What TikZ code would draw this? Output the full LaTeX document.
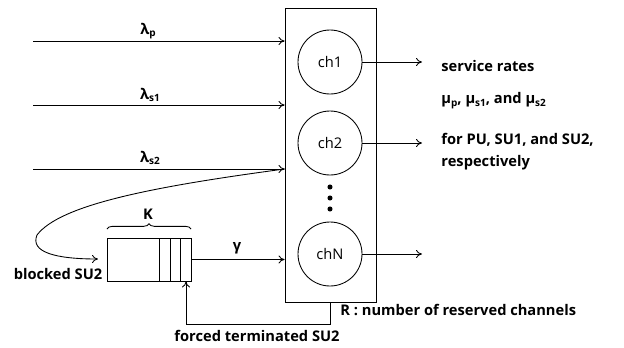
\documentclass[tikz,border=0pt]{standalone}
\usepackage{fontspec}
\setmainfont{Open Sans}
\usetikzlibrary{arrows.meta,decorations.pathreplacing}
\newcommand\lsub[1]{\raisebox{-0.35ex}{\fontsize{7.5}{8}\selectfont #1}}
\begin{document}
\begin{tikzpicture}[x=0.75pt,y=-0.75pt,
  line width=0.65pt,
  arr/.style={-{To[length=4.5pt,width=6pt]}},
  lbl/.style={font=\fontsize{11}{13}\selectfont\bfseries, inner sep=0pt},
  chan/.style={draw, circle, minimum size=48pt, inner sep=0pt, font=\fontsize{11}{13}\selectfont},
  dotn/.style={circle, fill, inner sep=0pt, minimum size=3.8pt}]
\useasboundingbox (0,0) rectangle (624,347);
% channel box
\node (box) [draw, inner sep=0pt, minimum width=68.25pt, minimum height=220.5pt] at (330.5,155) {};
\node (ch1) [chan] at (330,62) {ch1};
\node (ch2) [chan] at (330,143) {ch2};
\node (chN) [chan] at (330,254) {chN};
\node (d1) [dotn] at (330,187) {};
\node (d2) [dotn] at (330,198) {};
\node (d3) [dotn] at (330,209) {};
% inputs
\coordinate (a1) at (33,41);
\coordinate (a2) at (33,105);
\coordinate (a3) at (33,169);
\draw[arr] (a1) -- (a1 -| box.west);
\draw[arr] (a2) -- (a2 -| box.west);
\draw[arr] (a3) -- (a3 -| box.west);
\node (lp) [lbl] at (148,31) {λ\lsub{p}};
\node (ls1) [lbl] at (150,95) {λ\lsub{s1}};
\node (ls2) [lbl] at (150,158) {λ\lsub{s2}};
% outputs
\coordinate (o1) at (422,62);
\coordinate (o2) at (422,143);
\coordinate (oN) at (422,254);
\draw[arr] (ch1.east) -- (o1);
\draw[arr] (ch2.east) -- (o2);
\draw[arr] (chN.east) -- (oN);
\node (t1) [lbl, anchor=west] at (441,66) {service rates};
\node (t2) [lbl, anchor=west] at (441,101) {μ\lsub{p}, μ\lsub{s1}, and μ\lsub{s2}};
\node (t3) [lbl, anchor=west] at (441,140) {for PU, SU1, and SU2,};
\node (t4) [lbl, anchor=west] at (441,163) {respectively};
% queue
\node (q) [draw, inner sep=0pt, minimum width=63pt, minimum height=32.25pt] at (149,259.5) {};
\draw (159,238) -- (159,281) (170,238) -- (170,281) (180,238) -- (180,281);
\draw[decorate, decoration={brace, amplitude=4pt}] (107,229) -- (191,229);
\node (K) [lbl] at (148,214) {K};
\coordinate (gin) at (q.east -| box.west);
\draw[arr] (q.east) -- (gin);
\node (g) [lbl] at (237,248) {γ};
% blocked SU2 loop
\coordinate (bs) at (a3 -| box.west);
\coordinate (be) at (98,259);
\draw[arr] (bs) .. controls (150,187) and (60,205) .. (37,235) .. controls (30,252) and (55,259) .. (be);
\node (blk) [lbl] at (58,274) {blocked SU2};
% forced termination feedback
\coordinate (fb) at (186,324);
\draw[arr] (box.south) |- (fb) -- (fb |- q.south);
\node (ft) [lbl] at (257,336) {forced terminated SU2};
\node (R) [lbl, anchor=west] at (340,310) {R : number of reserved channels};
\end{tikzpicture}
\end{document}
